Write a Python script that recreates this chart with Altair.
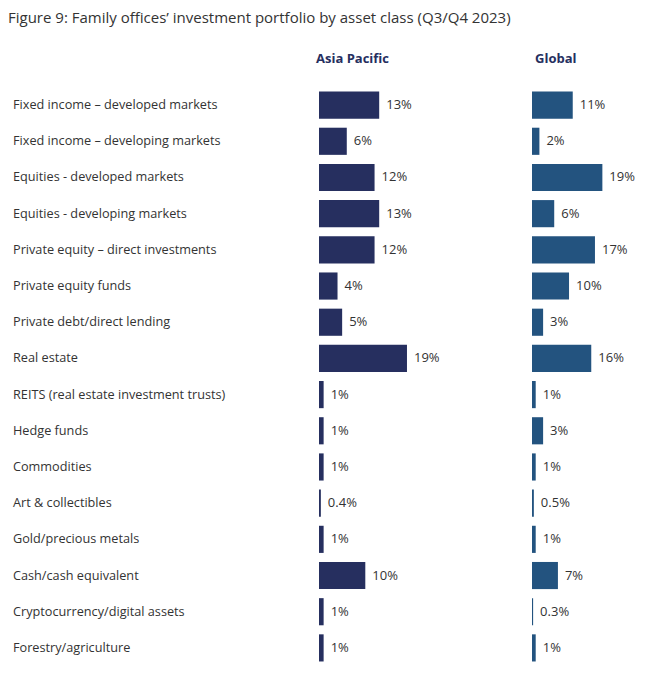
import altair as alt
import pandas as pd

categories = [
    "Fixed income – developed markets",
    "Fixed income – developing markets",
    "Equities - developed markets",
    "Equities - developing markets",
    "Private equity – direct investments",
    "Private equity funds",
    "Private debt/direct lending",
    "Real estate",
    "REITS (real estate investment trusts)",
    "Hedge funds",
    "Commodities",
    "Art & collectibles",
    "Gold/precious metals",
    "Cash/cash equivalent",
    "Cryptocurrency/digital assets",
    "Forestry/agriculture",
]
asia_values = [13, 6, 12, 13, 12, 4, 5, 19, 1, 1, 1, 0.4, 1, 10, 1, 1]
global_values = [11, 2, 19, 6, 17, 10, 3, 16, 1, 3, 1, 0.5, 1, 7, 0.3, 1]

df = pd.DataFrame({
    "category": categories,
    "asia": asia_values,
    "global": global_values,
    "asia_label": [f"{v:g}%" for v in asia_values],
    "global_label": [f"{v:g}%" for v in global_values],
})

FONT = "Open Sans"
H = 579

ysc = alt.Y("category:N", sort=categories, axis=None,
            scale=alt.Scale(paddingInner=0.25, paddingOuter=0.125))

labels = alt.Chart(df).mark_text(
    align="left", baseline="middle", font=FONT, fontSize=12.7, color="#333333"
).encode(y=ysc, x=alt.value(2), text="category:N").properties(width=308, height=H)


def panel(field, label_field, color, domain_max, width, title, tdx):
    base = alt.Chart(df).encode(
        y=ysc,
        x=alt.X(f"{field}:Q", axis=None, scale=alt.Scale(domain=[0, domain_max])),
    )
    bars = base.mark_bar(color=color)
    text = base.mark_text(
        align="left", baseline="middle", dx=7, font=FONT, fontSize=13, color="#333333"
    ).encode(text=f"{label_field}:N")
    return (bars + text).properties(
        width=width, height=H,
        title=alt.TitleParams(title, anchor="start", font=FONT, fontSize=13,
                              fontWeight="bold", color="#262f5f", dx=tdx, offset=21),
    )


asia = panel("asia", "asia_label", "#262f5f", 46, 213, "Asia Pacific", -3)
glob = panel("global", "global_label", "#23537f", 27, 100, "Global", 3)

chart = alt.hconcat(labels, asia, glob, spacing=0, bounds="flush").properties(
    title=alt.TitleParams(
        "Figure 9: Family offices’ investment portfolio by asset class (Q3/Q4 2023)",
        anchor="start", font=FONT, fontSize=15, fontWeight="normal", color="#333333",
        dx=-3, offset=27,
    ),
    padding={"left": 0, "top": 3, "right": 0, "bottom": 0},
).configure_view(stroke=None)

chart.save("out.html", embed_options={"renderer": "svg", "actions": False})
